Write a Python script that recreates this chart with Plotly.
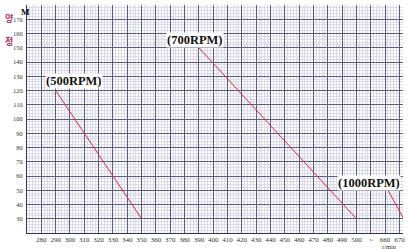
import plotly.graph_objects as go

# ---- data ----
rpm_500_flow = [290, 350]
rpm_500_head = [120, 30]
rpm_700_flow = [390, 500]
rpm_700_head = [150, 30]
rpm_1000_flow = [662, 673]
rpm_1000_head = [50, 30]

y_ticks = list(range(30, 171, 10))
x_ticks_low = list(range(280, 501, 10))
x_ticks_high = [660, 670]

# broken axis: values >= 650 are shifted left so that 660 sits two steps after 500
BREAK_SHIFT = 140


def xpos(v):
    return v if v <= 500 else v - BREAK_SHIFT


x_tickvals = [xpos(v) for v in x_ticks_low] + [510] + [xpos(v) for v in x_ticks_high]
x_ticktext = [str(v) for v in x_ticks_low] + ["~"] + [str(v) for v in x_ticks_high]

serif = "Liberation Serif, DejaVu Serif, serif"
line_color = "#d8283f"

fig = go.Figure()
for fx, hy in [(rpm_500_flow, rpm_500_head), (rpm_700_flow, rpm_700_head), (rpm_1000_flow, rpm_1000_head)]:
    fig.add_trace(go.Scatter(
        x=[xpos(v) for v in fx], y=hy, mode="lines",
        line=dict(color=line_color, width=1), showlegend=False, hoverinfo="skip"))

W, H = 410, 249
L, R, T, B = 27, 5, 5, 16


def px(x):
    return (x - L) / (W - L - R)


def py(y):
    return 1 - (y - T) / (H - T - B)


lab_font = dict(family=serif, size=12.5, color="#111111")
annotations = []
for x, y, t in [(282.5, 126.4, "(500RPM)"), (367.2, 155.2, "(700RPM)"), (486.7, 55.3, "(1000RPM)")]:
    annotations.append(dict(x=x, y=y, xref="x", yref="y", text="<b>" + t + "</b>", showarrow=False,
                            xanchor="left", yanchor="middle", font=lab_font, bgcolor="white",
                            borderpad=0))

kfont = dict(family="Noto Sans CJK KR, Noto Sans CJK SC", size=9, color="#b0306a")
annotations += [
    dict(x=px(19), y=py(5.5), xref="paper", yref="paper", text="<b>M</b>", showarrow=False,
         font=dict(family=serif, size=9, color="#111111")),
    dict(x=px(3), y=py(19), xref="paper", yref="paper", text="<b>양</b>", showarrow=False,
         xanchor="left", yanchor="middle", font=kfont),
    dict(x=px(3), y=py(41), xref="paper", yref="paper", text="<b>정</b>", showarrow=False,
         xanchor="left", yanchor="middle", font=kfont),
    dict(x=px(401), y=py(241), xref="paper", yref="paper", text="r/min", showarrow=False,
         yanchor="top", font=dict(family=serif, size=6.5, color="#333333")),
]

fig.update_layout(
    width=W, height=H,
    margin=dict(l=L, r=R, t=T, b=B),
    paper_bgcolor="white", plot_bgcolor="white",
    annotations=annotations,
    xaxis=dict(range=[270, 532.5], tickvals=x_tickvals, ticktext=x_ticktext,
               showgrid=True, gridcolor="#5a5c86", gridwidth=1,
               minor=dict(dtick=2, tick0=270, showgrid=True, gridcolor="#dadaea", gridwidth=1),
               ticks="", tickfont=dict(family=serif, size=7, color="#333333"),
               showline=True, linecolor="#333355", linewidth=1, zeroline=False, tickangle=0,
               ticklabelstandoff=0),
    yaxis=dict(range=[20, 180], tickvals=y_ticks, ticktext=[str(v) for v in y_ticks],
               showgrid=True, gridcolor="#5a5c86", gridwidth=1,
               minor=dict(dtick=2, tick0=20, showgrid=True, gridcolor="#dadaea", gridwidth=1),
               ticks="", tickfont=dict(family=serif, size=6.5, color="#333333"),
               showline=True, linecolor="#333355", linewidth=1, zeroline=False,
               ticklabelstandoff=2),
)

fig.write_html("out.html")
